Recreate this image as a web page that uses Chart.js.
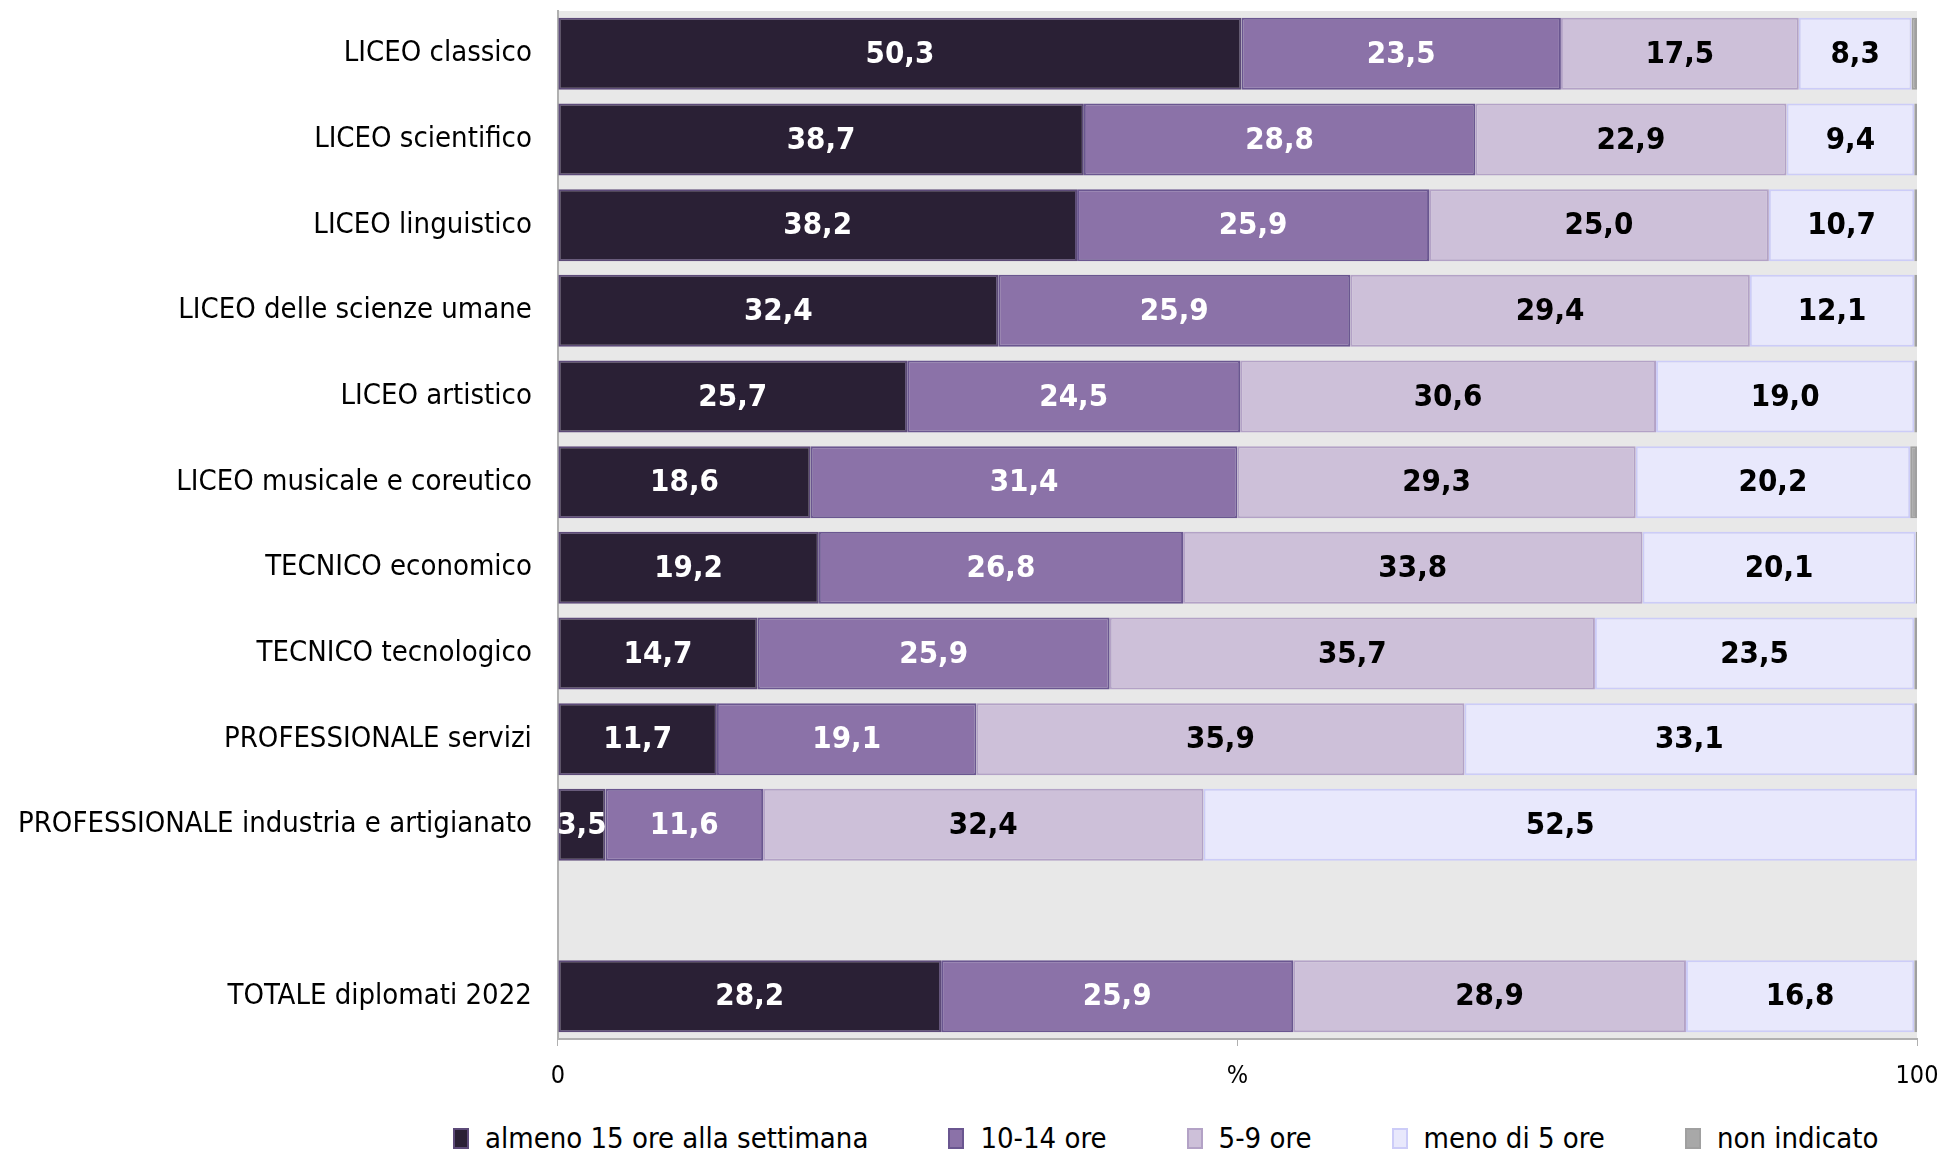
<!DOCTYPE html>
<html lang="it">
<head>
    <meta charset="UTF-8">
    <title>Ore di studio settimanali per tipo di diploma</title>
    <script src="https://cdn.jsdelivr.net/npm/chart.js"></script>
    <style>
        body {
            margin: 0;
            padding: 0;
            background-color: #ffffff;
            font-family: "DejaVu Sans Condensed", "DejaVu Sans", sans-serif;
        }
        .chart-container {
            position: relative;
            width: 1942px;
            height: 1106px;
        }
        #legend {
            position: absolute;
            top: 1121px;
            left: 0;
            width: 1942px;
            display: flex;
            justify-content: flex-start;
            gap: 80px;
            padding-left: 453px;
            box-sizing: border-box;
            font-size: 29px;
            color: #000;
        }
        .item {
            display: flex;
            align-items: center;
        }
        .box {
            width: 12px;
            height: 17px;
            border: 2px solid;
            margin-right: 16px;
        }
    </style>
</head>
<body>
    <div class="chart-container">
        <canvas id="oreChart"></canvas>
    </div>
    <div id="legend"></div>

    <script>
        const categories = [
            'LICEO classico', 'LICEO scientifico', 'LICEO linguistico', 'LICEO delle scienze umane',
            'LICEO artistico', 'LICEO musicale e coreutico', 'TECNICO economico', 'TECNICO tecnologico',
            'PROFESSIONALE servizi', 'PROFESSIONALE industria e artigianato', '', 'TOTALE diplomati 2022'
        ];

        const seriesNames = ['almeno 15 ore alla settimana', '10-14 ore', '5-9 ore', 'meno di 5 ore', 'non indicato'];

        const almeno15 = [50.3, 38.7, 38.2, 32.4, 25.7, 18.6, 19.2, 14.7, 11.7, 3.5, null, 28.2];
        const ore10_14 = [23.5, 28.8, 25.9, 25.9, 24.5, 31.4, 26.8, 25.9, 19.1, 11.6, null, 25.9];
        const ore5_9 = [17.5, 22.9, 25.0, 29.4, 30.6, 29.3, 33.8, 35.7, 35.9, 32.4, null, 28.9];
        const meno5 = [8.3, 9.4, 10.7, 12.1, 19.0, 20.2, 20.1, 23.5, 33.1, 52.5, null, 16.8];
        const nonIndicato = [0.4, 0.2, 0.2, 0.2, 0.2, 0.5, 0.1, 0.2, 0.2, 0.0, null, 0.2];

        const xTicks = { 0: '0', 50: '%', 100: '100' };

        const fills = ['#2a2035', '#8b72a8', '#cdc0d9', '#e8e8fc', '#a8a8a8'];
        const borders = ['#5c4a78', '#6a5690', '#b3a2c6', '#ccccf8', '#a0a0a0'];
        const labelColors = ['#ffffff', '#ffffff', '#000000', '#000000', null];

        const allSeries = [almeno15, ore10_14, ore5_9, meno5, nonIndicato];

        // grey plot background
        const plotBackground = {
            id: 'plotBackground',
            beforeDraw(chart) {
                const { ctx, chartArea } = chart;
                ctx.save();
                ctx.fillStyle = '#e8e8e8';
                ctx.fillRect(chartArea.left, chartArea.top, chartArea.width, chartArea.height);
                ctx.restore();
            }
        };

        // values written in the middle of each segment
        const barLabels = {
            id: 'barLabels',
            afterDatasetsDraw(chart) {
                const ctx = chart.ctx;
                ctx.save();
                ctx.font = 'bold 31px "DejaVu Sans Condensed", "DejaVu Sans", sans-serif';
                ctx.textAlign = 'center';
                ctx.textBaseline = 'middle';
                chart.data.datasets.forEach((ds, i) => {
                    if (!labelColors[i]) return;
                    ctx.fillStyle = labelColors[i];
                    chart.getDatasetMeta(i).data.forEach((bar, j) => {
                        const v = ds.data[j];
                        if (v === null) return;
                        const x = (bar.x + bar.base) / 2;
                        ctx.fillText(v.toFixed(1).replace('.', ','), x, bar.y + 1);
                    });
                });
                ctx.restore();
            }
        };

        const ctx = document.getElementById('oreChart').getContext('2d');
        const chart = new Chart(ctx, {
            type: 'bar',
            data: {
                labels: categories,
                datasets: allSeries.map((data, i) => ({
                    label: seriesNames[i],
                    data: data,
                    backgroundColor: fills[i],
                    borderColor: borders[i],
                    borderWidth: 2,
                    borderSkipped: false,
                    barPercentage: 0.84,
                    categoryPercentage: 1.0
                }))
            },
            options: {
                indexAxis: 'y',
                responsive: true,
                maintainAspectRatio: false,
                animation: false,
                layout: { padding: { top: 11, right: 0, bottom: 0, left: 0 } },
                plugins: {
                    legend: { display: false },
                    tooltip: { enabled: false }
                },
                scales: {
                    x: {
                        stacked: true,
                        min: 0,
                        max: 100,
                        afterFit: (scale) => {
                            scale.paddingLeft = 0;
                            scale.paddingRight = 25;
                        },
                        grid: {
                            drawOnChartArea: false,
                            drawTicks: true,
                            tickLength: 7,
                            color: '#b0b0b0'
                        },
                        border: { color: '#b0b0b0', width: 2 },
                        ticks: {
                            stepSize: 50,
                            color: '#000',
                            padding: 15,
                            maxRotation: 0,
                            font: { family: '"DejaVu Sans Condensed", "DejaVu Sans", sans-serif', size: 25 },
                            callback: (value) => xTicks[value]
                        }
                    },
                    y: {
                        stacked: true,
                        afterFit: (scale) => {
                            scale.paddingTop = 0;
                            scale.paddingBottom = 0;
                        },
                        grid: { display: false },
                        border: { color: '#b0b0b0', width: 2 },
                        ticks: {
                            color: '#000',
                            padding: 18,
                            font: { family: '"DejaVu Sans Condensed", "DejaVu Sans", sans-serif', size: 29 }
                        }
                    }
                }
            },
            plugins: [plotBackground, barLabels]
        });

        // legend built from the chart's datasets
        const legend = document.getElementById('legend');
        chart.data.datasets.forEach(ds => {
            const item = document.createElement('div');
            item.className = 'item';
            const box = document.createElement('span');
            box.className = 'box';
            box.style.background = ds.backgroundColor;
            box.style.borderColor = ds.borderColor;
            const txt = document.createElement('span');
            txt.textContent = ds.label;
            item.appendChild(box);
            item.appendChild(txt);
            legend.appendChild(item);
        });
    </script>
</body>
</html>
